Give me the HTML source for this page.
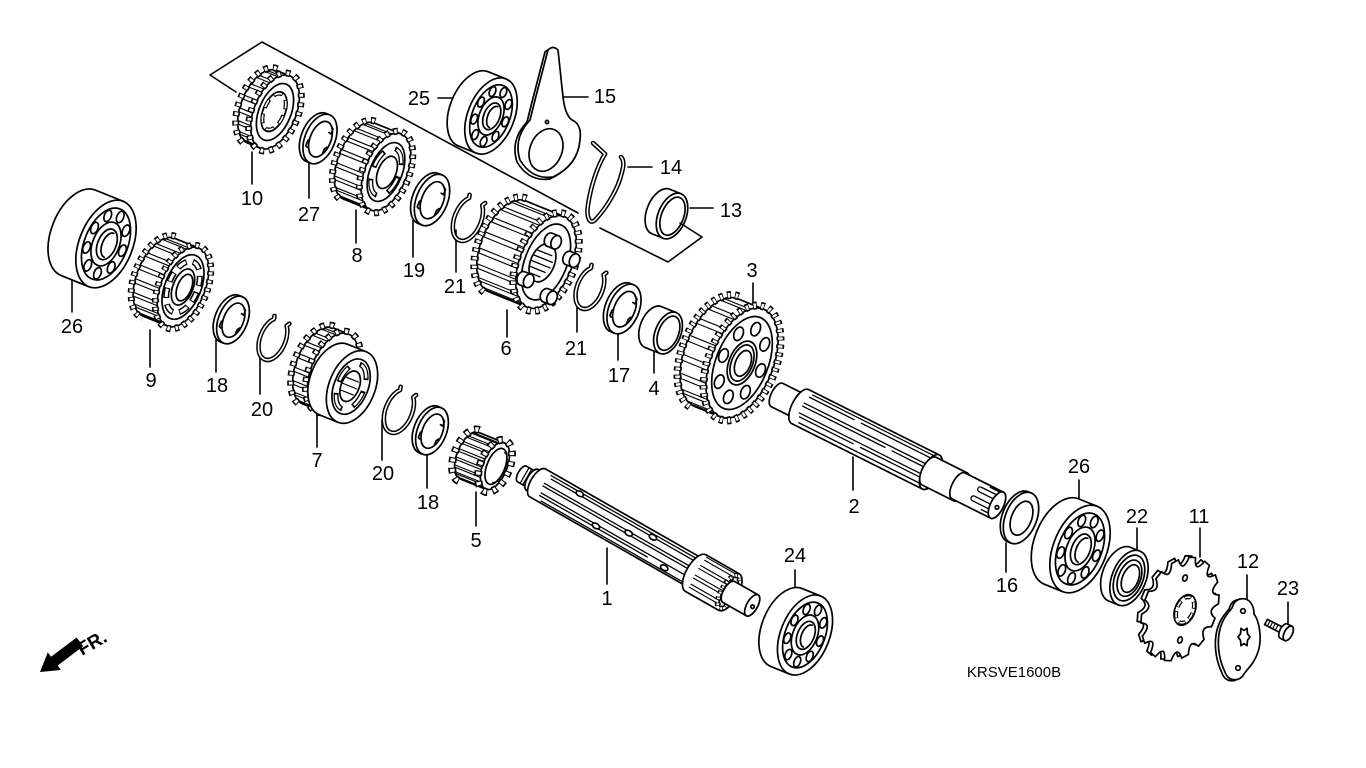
<!DOCTYPE html>
<html><head><meta charset="utf-8"><title>Transmission parts diagram</title>
<style>
html,body{margin:0;padding:0;background:#fff;width:1366px;height:768px;overflow:hidden}
svg{display:block}
.o{fill:#fff;stroke:#000;stroke-width:1.7;stroke-linejoin:round}
.n{fill:none;stroke:#000;stroke-width:1.7;stroke-linejoin:round;stroke-linecap:round}
.t{fill:none;stroke:#000;stroke-width:1.1}
.v{vector-effect:non-scaling-stroke}
.tb{fill:none;stroke:#000;stroke-width:7;stroke-dasharray:.5 .5}
.tw{fill:none;stroke:#fff;stroke-width:3.8;stroke-dasharray:.3 .7;stroke-dashoffset:-.1}
.sb{fill:none;stroke:#000;stroke-width:6;stroke-dasharray:.62 .38}
.sw{fill:none;stroke:#fff;stroke-width:3;stroke-dasharray:.5 .5;stroke-dashoffset:-.06}
.wb{fill:none;stroke:#000;stroke-width:4.6;stroke-linecap:round;stroke-linejoin:round}
.ww{fill:none;stroke:#fff;stroke-width:1.6;stroke-linecap:round;stroke-linejoin:round}
.lb text{font-family:"Liberation Sans",Arial,sans-serif;font-size:20px;fill:#000;text-anchor:middle}
</style></head><body>
<svg width="1366" height="768" viewBox="0 0 1366 768" xmlns="http://www.w3.org/2000/svg">
<defs>
<path id="sl" class="t v" d="M-300,.985H0M-300,.961H0M-300,.866H0M-300,.809H0M-300,.643H0M-300,.559H0M-300,.342H0M-300,.242H0M-300,0H0M-300,-.105H0M-300,-.342H0M-300,-.438H0M-300,-.643H0M-300,-.719H0M-300,-.866H0M-300,-.914H0"/>
<g id="bf">
<ellipse class="o v" rx=".58" ry="1"/>
<ellipse class="n v" rx=".47" ry=".82"/>
<ellipse class="o v" cx=".385" cy="0" rx=".075" ry=".13"/>
<ellipse class="o v" cx=".295" cy=".431" rx=".075" ry=".13"/>
<ellipse class="o v" cx=".067" cy=".66" rx=".075" ry=".13"/>
<ellipse class="o v" cx="-.193" cy=".58" rx=".075" ry=".13"/>
<ellipse class="o v" cx="-.362" cy=".229" rx=".075" ry=".13"/>
<ellipse class="o v" cx="-.362" cy="-.229" rx=".075" ry=".13"/>
<ellipse class="o v" cx="-.193" cy="-.58" rx=".075" ry=".13"/>
<ellipse class="o v" cx=".067" cy="-.66" rx=".075" ry=".13"/>
<ellipse class="o v" cx=".295" cy="-.431" rx=".075" ry=".13"/>
<ellipse class="o v" rx=".29" ry=".5"/>
<ellipse class="o v" cx=".02" rx=".2" ry=".35"/>
<path class="n v" d="M.07,-.28A.15 .28 0 0 0 .07,.28"/>
</g>
<g id="rg">
<path class="o v" d="M0,-1H-.15A.58 1 0 0 0 -.15,1H0Z"/>
<ellipse class="o v" rx=".58" ry="1"/>
<ellipse class="o v" cx=".02" rx=".4" ry=".72"/>
<path class="n v" d="M.22,-.62l.1,.08v.2l-.1,-.02M-.36,.18l-.05,.04v.22l.07,.04M.36,.2l-.06,.1v.18"/>
</g>
<g id="wr">
<path class="o v" d="M0,-1H-.12A.58 1 0 0 0 -.12,1H0Z"/>
<ellipse class="o v" rx=".58" ry="1"/>
<ellipse class="o v" cx=".02" rx=".37" ry=".66"/>
</g>
<g id="cr">
<path class="wb v" d="M.43,-.92L.35,-.79A.58 1 0 1 1 -.3,-.86L-.33,-1"/>
<path class="ww v" d="M.43,-.92L.35,-.79A.58 1 0 1 1 -.3,-.86L-.33,-1"/>
</g>
<path id="spr" d="M35.9,-4.7L35.9,4.7Q24.6,8.4 33.7,19.1L31,27.6Q19.7,23.6 24.8,39.1L19.9,45Q10.9,34.1 11,51.4L4.9,53.5Q0,37.8 -4.9,53.5L-11,51.4Q-10.9,34.1 -19.9,45L-24.8,39.1Q-19.7,23.6 -31,27.6L-33.7,19.1Q-24.6,8.4 -35.9,4.7L-35.9,-4.7Q-24.6,-8.4 -33.7,-19.1L-31,-27.6Q-19.7,-23.6 -24.8,-39.1L-19.9,-45Q-10.9,-34.1 -11,-51.4L-4.9,-53.5Q0,-37.8 4.9,-53.5L11,-51.4Q10.9,-34.1 19.9,-45L24.8,-39.1Q19.7,-23.6 31,-27.6L33.7,-19.1Q24.6,-8.4 35.9,-4.7Z"/>
<clipPath id="c10"><path d="M0,-39H-14A21 39 0 0 0 -14,39H0Z"/></clipPath>
<clipPath id="c9"><path d="M0,-42H-26A22 42 0 0 0 -26,42H0Z"/></clipPath>
<clipPath id="c8"><path d="M0,-41H-29A21 41 0 0 0 -29,41H0Z"/></clipPath>
<clipPath id="c7"><path d="M0,-41H-16A22 41 0 0 0 -16,41H0Z"/></clipPath>
<clipPath id="c6"><path d="M0,-49H-42A26 49 0 0 0 -42,49H0Z"/></clipPath>
<clipPath id="c3"><path d="M0,-58H-28A31 58 0 0 0 -28,58H0Z"/></clipPath>
<clipPath id="c5"><path d="M0,-25H-28A12 25 0 0 0 -28,25H0Z"/></clipPath>
</defs>

<rect width="1366" height="768" fill="#fff"/>

<!-- bracket lines -->
<path class="n" style="stroke-width:1.6" d="M236,92L210,75L262,42L578,213M600,228L668,262L702,237"/>

<!-- leader lines -->
<path class="n" style="stroke-width:1.6" d="M252,152V184M309,163V198M356,210V243M413,220V257M456,230V272M72,278V312M150,330V367M216,340V372M260,355V394M317,410V447M382,420V460M427,452V488M476,492V526M607,548V584M795,570V593M507,310V337M577,290V332M618,333V360M654,343V373M753,283V308M853,457V490M1079,480V503M1006,543V572M1137,528V553M1200,528V557M1247,575V600M1288,602V627M438,98H455M563,97H588M628,167H652M690,208H713"/>

<!-- Gear 10 -->
<g transform="translate(275,112) rotate(22)">
<path class="o" d="M0,-39H-14A21 39 0 0 0 -14,39H0Z"/>
<path class="tb" pathLength="11" d="M-14,-41A23 41 0 0 0 -14,41"/>
<path class="tw" pathLength="11" d="M-14,-41A23 41 0 0 0 -14,41"/>
<g clip-path="url(#c10)"><use href="#sl" transform="scale(1,39)"/></g>
<ellipse class="o" rx="21" ry="39"/>
<path class="tb" pathLength="22" d="M23,0A23 41 0 1 1 -23,0A23 41 0 1 1 23,0"/>
<path class="tw" pathLength="22" d="M23,0A23 41 0 1 1 -23,0A23 41 0 1 1 23,0"/>
<ellipse class="n" rx="16" ry="30"/>
<ellipse class="o" cx="-1" rx="11" ry="21"/>
<path class="sb" style="stroke-width:4" pathLength="6" d="M9,0A10 19 0 1 1 -11,0A10 19 0 1 1 9,0"/>
<path class="sw" style="stroke-width:1.6" pathLength="6" d="M9,0A10 19 0 1 1 -11,0A10 19 0 1 1 9,0"/>
</g>

<!-- Ring 27 -->
<use href="#rg" transform="translate(320,139) rotate(22) scale(26)"/>

<!-- Gear 8 -->
<g transform="translate(386,172) rotate(22)">
<path class="o" d="M0,-41H-29A21 41 0 0 0 -29,41H0Z"/>
<path class="tb" pathLength="12" d="M-29,-43A23 43 0 0 0 -29,43"/>
<path class="tw" pathLength="12" d="M-29,-43A23 43 0 0 0 -29,43"/>
<g clip-path="url(#c8)"><use href="#sl" transform="scale(1,41)"/></g>
<ellipse class="o" rx="21" ry="41"/>
<path class="tb" pathLength="24" d="M23,0A23 43 0 1 1 -23,0A23 43 0 1 1 23,0"/>
<path class="tw" pathLength="24" d="M23,0A23 43 0 1 1 -23,0A23 43 0 1 1 23,0"/>
<ellipse class="o" rx="16" ry="31"/>
<path class="sb" style="stroke-width:5" pathLength="4" d="M13,0A13 25 0 1 1 -13,0A13 25 0 1 1 13,0"/>
<path class="sw" style="stroke-width:2.4" pathLength="4" d="M13,0A13 25 0 1 1 -13,0A13 25 0 1 1 13,0"/>
<ellipse class="o" cx="1" rx="9" ry="17"/>
</g>

<!-- Ring 19 -->
<use href="#rg" transform="translate(432,200) rotate(22) scale(27)"/>
<!-- Clip 21 upper -->
<use href="#cr" transform="translate(468,219) rotate(22) scale(23)"/>

<!-- Bearing 25 -->
<g transform="translate(491,116) rotate(22)">
<path class="o" d="M0,-40H-19A23.2 40 0 0 0 -19,40H0Z"/>
<use href="#bf" transform="scale(40)"/>
</g>

<!-- Plate 15 -->
<path class="o" d="M545,52Q550,47 555,52L560,99Q562,117 569,122Q579,126 577,142Q575,167 550,179Q529,182 517,162Q510,140 527,122L532,102Z"/>
<path class="o" d="M548,50Q553,45 558,50L563,97Q565,115 572,120Q582,124 580,140Q578,165 553,177Q532,180 520,160Q513,138 530,120L535,100Z"/>
<ellipse class="o" cx="546" cy="150" rx="16" ry="22" transform="rotate(22 546 150)"/>
<circle class="o" cx="547" cy="122" r="1.6"/>

<!-- Spring 14 -->
<path class="wb" d="M593,143L605,154C598,165 591,185 588,205C586,218 590,226 596,219C606,208 618,190 622,172C624,165 624,160 621,157"/>
<path class="ww" d="M593,143L605,154C598,165 591,185 588,205C586,218 590,226 596,219C606,208 618,190 622,172C624,165 624,160 621,157"/>

<!-- Collar 13 -->
<g transform="translate(672,216) rotate(22)">
<path class="o" d="M0,-24H-12A14 24 0 0 0 -12,24H0Z"/>
<ellipse class="o" rx="14" ry="24"/>
<ellipse class="o" cx=".5" rx="11" ry="20"/>
</g>
<path class="n" style="stroke-width:1.6" d="M702,237L680,223"/>

<!-- Gear 6 -->
<g transform="translate(546,262) rotate(22)">
<path class="o" d="M0,-49H-42A26 49 0 0 0 -42,49H0Z"/>
<path class="tb" style="stroke-width:8" pathLength="15" d="M-42,-51.5A28.5 51.5 0 0 0 -42,51.5"/>
<path class="tw" style="stroke-width:4.6" pathLength="15" d="M-42,-51.5A28.5 51.5 0 0 0 -42,51.5"/>
<g clip-path="url(#c6)"><use href="#sl" transform="scale(1,49)"/></g>
<ellipse class="o" rx="26" ry="49"/>
<path class="tb" style="stroke-width:8" pathLength="30" d="M28.5,0A28.5 51.5 0 1 1 -28.5,0A28.5 51.5 0 1 1 28.5,0"/>
<path class="tw" style="stroke-width:4.6" pathLength="30" d="M28.5,0A28.5 51.5 0 1 1 -28.5,0A28.5 51.5 0 1 1 28.5,0"/>
<ellipse class="n" rx="21" ry="40"/>
<ellipse class="o" cx="-3" cy="2" rx="12" ry="20"/>
<path class="n" style="stroke-width:1.3" d="M-13,-8H3M-14,-2H6M-14,4H6M-13,10H3M-10,16H0"/>
<g transform="translate(-5,-22)"><path class="o" d="M7,-7H0A5 7 0 0 0 0,7H7Z"/><ellipse class="o" cx="7" rx="5" ry="7"/></g>
<g transform="translate(-16,24)"><path class="o" d="M7,-7H0A5 7 0 0 0 0,7H7Z"/><ellipse class="o" cx="7" rx="5" ry="7"/></g>
<g transform="translate(12,31)"><path class="o" d="M7,-7H0A5 7 0 0 0 0,7H7Z"/><ellipse class="o" cx="7" rx="5" ry="7"/></g>
<g transform="translate(19,-12)"><path class="o" d="M7,-7H0A5 7 0 0 0 0,7H7Z"/><ellipse class="o" cx="7" rx="5" ry="7"/></g>
</g>

<!-- Clip 21 lower -->
<use href="#cr" transform="translate(590,288) rotate(22) scale(22)"/>
<!-- Ring 17 -->
<use href="#rg" transform="translate(624,309) rotate(22) scale(26)"/>

<!-- Collar 4 -->
<g transform="translate(668,333) rotate(22)">
<path class="o" d="M0,-22H-16A12.8 22 0 0 0 -16,22H0Z"/>
<ellipse class="o" rx="12.8" ry="22"/>
<ellipse class="o" cx=".5" rx="10" ry="18"/>
</g>

<!-- Gear 3 -->
<g transform="translate(742,363) rotate(22)">
<path class="o" d="M0,-58H-28A31 58 0 0 0 -28,58H0Z"/>
<path class="tb" style="stroke-width:8" pathLength="19" d="M-28,-60.5A33.5 60.5 0 0 0 -28,60.5"/>
<path class="tw" style="stroke-width:4.6" pathLength="19" d="M-28,-60.5A33.5 60.5 0 0 0 -28,60.5"/>
<g clip-path="url(#c3)"><use href="#sl" transform="scale(1,58)"/></g>
<ellipse class="o" rx="31" ry="58"/>
<path class="tb" style="stroke-width:8" pathLength="38" d="M33.5,0A33.5 60.5 0 1 1 -33.5,0A33.5 60.5 0 1 1 33.5,0"/>
<path class="tw" style="stroke-width:4.6" pathLength="38" d="M33.5,0A33.5 60.5 0 1 1 -33.5,0A33.5 60.5 0 1 1 33.5,0"/>
<ellipse class="n" rx="26" ry="49"/>
<ellipse class="o" cx="20" cy="0" rx="4.5" ry="7"/>
<ellipse class="o" cx="14.1" cy="25.8" rx="4.5" ry="7"/>
<ellipse class="o" cx="0" cy="36.5" rx="4.5" ry="7"/>
<ellipse class="o" cx="-14.1" cy="25.8" rx="4.5" ry="7"/>
<ellipse class="o" cx="-20" cy="0" rx="4.5" ry="7"/>
<ellipse class="o" cx="-14.1" cy="-25.8" rx="4.5" ry="7"/>
<ellipse class="o" cx="0" cy="-36.5" rx="4.5" ry="7"/>
<ellipse class="o" cx="14.1" cy="-25.8" rx="4.5" ry="7"/>
<ellipse class="o" rx="13" ry="23"/>
<ellipse class="n" rx="10.5" ry="19"/>
<ellipse class="o" cx="1" rx="7.5" ry="13.5"/>
</g>

<!-- Shaft 2 -->
<g transform="translate(777,395) rotate(26.6)">
<path class="o" d="M0,-13H30A5.8 13 0 0 1 30,13H0A5.8 13 0 0 1 0,-13Z"/>
<path class="o" d="M26,-19H172A8.5 19 0 0 1 172,19H26A8.5 19 0 0 1 26,-19Z"/>
<path class="n" style="stroke-width:1.3" d="M32,-16H168M30,-12.5H80M88,-12.5H168M28,-5H168M28,-1.5H120M128,-1.5H168M28,6H168M30,9.5H90M98,9.5H168M32,15H166"/>
<ellipse class="o" cx="172" rx="8.5" ry="19"/>
<path class="o" d="M170,-15.5H205A7 15.5 0 0 1 205,15.5H170A7 15.5 0 0 1 170,-15.5Z"/>
<ellipse class="o" cx="205" rx="7" ry="15.5"/>
<path class="o" d="M203,-14.5H246A6.5 14.5 0 0 1 246,14.5H203A6.5 14.5 0 0 1 203,-14.5Z"/>
<path class="n" style="stroke-width:1.3" d="M246,-9H224A2.5 2.5 0 0 0 224,-4H246M246,2H222A2.5 2.5 0 0 0 222,7H246M244,-13H232M244,11H234"/>
<ellipse class="o" cx="246" rx="6.5" ry="14.5"/>
<circle class="o" cx="247" cy="2" r="1.8"/>
</g>

<!-- Bearing 26 left -->
<g transform="translate(106,244) rotate(22)">
<path class="o" d="M0,-46H-30A26.7 46 0 0 0 -30,46H0Z"/>
<use href="#bf" transform="scale(46)"/>
</g>

<!-- Gear 9 -->
<g transform="translate(183,287) rotate(22)">
<path class="o" d="M0,-42H-26A22 42 0 0 0 -26,42H0Z"/>
<path class="tb" pathLength="13" d="M-26,-44A24 44 0 0 0 -26,44"/>
<path class="tw" pathLength="13" d="M-26,-44A24 44 0 0 0 -26,44"/>
<g clip-path="url(#c9)"><use href="#sl" transform="scale(1,42)"/></g>
<ellipse class="o" rx="22" ry="42"/>
<path class="tb" pathLength="26" d="M24,0A24 44 0 1 1 -24,0A24 44 0 1 1 24,0"/>
<path class="tw" pathLength="26" d="M24,0A24 44 0 1 1 -24,0A24 44 0 1 1 24,0"/>
<ellipse class="n" rx="18" ry="34"/>
<path class="sb" pathLength="8" d="M14.5,0A14.5 27 0 1 1 -14.5,0A14.5 27 0 1 1 14.5,0"/>
<path class="sw" pathLength="8" d="M14.5,0A14.5 27 0 1 1 -14.5,0A14.5 27 0 1 1 14.5,0"/>
<ellipse class="o" rx="10" ry="19"/>
<ellipse class="o" cx="1.5" rx="7" ry="14"/>
</g>

<!-- Ring 18 a, Clip 20 a -->
<use href="#rg" transform="translate(233,320) rotate(22) scale(25)"/>
<use href="#cr" transform="translate(273,339) rotate(22) scale(22)"/>

<!-- Gear 7 -->
<g transform="translate(333,372) rotate(22)">
<path class="o" d="M0,-41H-16A22 41 0 0 0 -16,41H0Z"/>
<path class="tb" pathLength="11" d="M-16,-43A24 43 0 0 0 -16,43"/>
<path class="tw" pathLength="11" d="M-16,-43A24 43 0 0 0 -16,43"/>
<g clip-path="url(#c7)"><use href="#sl" transform="scale(1,41)"/></g>
<ellipse class="o" rx="22" ry="41"/>
<path class="tb" pathLength="22" d="M24,0A24 43 0 1 1 -24,0A24 43 0 1 1 24,0"/>
<path class="tw" pathLength="22" d="M24,0A24 43 0 1 1 -24,0A24 43 0 1 1 24,0"/>
</g>
<g transform="translate(352,387) rotate(22)">
<path class="o" d="M0,-38H-20A23 38 0 0 0 -20,38H0Z"/>
<ellipse class="o" rx="23" ry="38"/>
<ellipse class="o" cx="-1" rx="17" ry="29"/>
<path class="sb" style="stroke-width:5" pathLength="4" d="M12,0A13 24 0 1 1 -14,0A13 24 0 1 1 12,0"/>
<path class="sw" style="stroke-width:2.4" pathLength="4" d="M12,0A13 24 0 1 1 -14,0A13 24 0 1 1 12,0"/>
<ellipse class="o" cx="-2" rx="9" ry="16"/>
<path class="n" style="stroke-width:1.2" d="M-9,-7H4M-10,0H5M-9,7H4"/>
</g>

<!-- Clip 20 b, Ring 18 b -->
<use href="#cr" transform="translate(399,411) rotate(22) scale(23)"/>
<use href="#rg" transform="translate(432,431) rotate(22) scale(25)"/>

<!-- Gear 5 -->
<g transform="translate(495,466) rotate(22)">
<path class="o" d="M0,-25H-28A12 25 0 0 0 -28,25H0Z"/>
<path class="tb" style="stroke-width:8" pathLength="6.5" d="M-28,-27.5A14.5 27.5 0 0 0 -28,27.5"/>
<path class="tw" style="stroke-width:4.6" pathLength="6.5" d="M-28,-27.5A14.5 27.5 0 0 0 -28,27.5"/>
<g clip-path="url(#c5)"><use href="#sl" transform="scale(1,25)"/></g>
<ellipse class="o" rx="12" ry="25"/>
<path class="tb" style="stroke-width:8" pathLength="13" d="M14.5,0A14.5 27.5 0 1 1 -14.5,0A14.5 27.5 0 1 1 14.5,0"/>
<path class="tw" style="stroke-width:4.6" pathLength="13" d="M14.5,0A14.5 27.5 0 1 1 -14.5,0A14.5 27.5 0 1 1 14.5,0"/>
<ellipse class="o" cx="1" rx="9" ry="19"/>
<path class="n" style="stroke-width:1.3" d="M4,-16A6 15 0 0 1 4,16"/>
</g>

<!-- Shaft 1 -->
<g transform="translate(522,474) rotate(29.7)">
<path class="o" d="M0,-9H14A4 9 0 0 1 14,9H0A4 9 0 0 1 0,-9Z"/>
<path class="n" style="stroke-width:1.2" d="M3,-9V9M6,-9V9M9,-9V9"/>
<path class="o" d="M12,-12H20A5.4 12 0 0 1 20,12H12A5.4 12 0 0 1 12,-12Z"/>
<path class="o" d="M18,-16H203A7.2 16 0 0 1 203,16H18A7.2 16 0 0 1 18,-16Z"/>
<path class="n" style="stroke-width:1.3" d="M26,-13H198M28,-10H140M150,-10H198M24,-3H118M126,-3H198M24,0H198M26,7H198M26,10H150M30,14H196"/>
<ellipse class="o" cx="122" cy="-1.5" rx="4" ry="2.5"/>
<ellipse class="o" cx="145" cy="-10" rx="4" ry="2.5"/>
<ellipse class="o" cx="60" cy="-11.5" rx="4" ry="2.5"/>
<ellipse class="o" cx="90" cy="8.5" rx="4" ry="2.5"/>
<ellipse class="o" cx="170" cy="11" rx="4" ry="2.5"/>
<path class="o" d="M200,-21H238A9.5 21 0 0 1 238,21H200A9.5 21 0 0 1 200,-21Z"/>
<path class="t" d="M201,-19H238M201,-15.5H238M200,-9H238M200,-5.5H238M200,2H238M200,5.5H238M201,12H238M201,15.5H238"/>
<ellipse class="o" cx="238" rx="5.5" ry="17"/>
<path class="tb" style="stroke-width:6" pathLength="14" d="M245,0A7 18.5 0 1 1 231,0A7 18.5 0 1 1 245,0"/>
<path class="tw" style="stroke-width:2.8" pathLength="14" d="M245,0A7 18.5 0 1 1 231,0A7 18.5 0 1 1 245,0"/>
<path class="o" d="M238,-12H265A5.4 12 0 0 1 265,12H238A5.4 12 0 0 1 238,-12Z"/>
<ellipse class="o" cx="265" rx="5.4" ry="12"/>
<circle class="o" cx="266" cy="1" r="1.8"/>
</g>

<!-- Bearing 24 -->
<g transform="translate(805,635) rotate(22)">
<path class="o" d="M0,-42H-20A24.4 42 0 0 0 -20,42H0Z"/>
<use href="#bf" transform="scale(42)"/>
</g>

<!-- Washer 16 -->
<use href="#wr" transform="translate(1021,518) rotate(22) scale(27)"/>

<!-- Bearing 26 right -->
<g transform="translate(1080,549) rotate(22)">
<path class="o" d="M0,-46H-20A26.7 46 0 0 0 -20,46H0Z"/>
<use href="#bf" transform="scale(46)"/>
</g>

<!-- Seal 22 -->
<g transform="translate(1129,578) rotate(22)">
<path class="o" d="M0,-29H-10A17 29 0 0 0 -10,29H0Z"/>
<ellipse class="o" rx="17" ry="29"/>
<ellipse class="n" rx="14" ry="24"/>
<ellipse class="o" cx=".5" rx="11" ry="19"/>
<ellipse class="n" cx="1.5" rx="8" ry="14.5"/>
</g>

<!-- Sprocket 11 -->
<g transform="translate(1180,609) rotate(22)">
<use href="#spr" class="o" transform="translate(-4,0)"/>
<use href="#spr" class="o"/>
<ellipse class="o" cx="5" cy="-1" rx="10" ry="16"/>
<path class="sb" style="stroke-width:4" pathLength="6" d="M13,-1A8 13.5 0 1 1 -3,-1A8 13.5 0 1 1 13,-1"/>
<path class="sw" style="stroke-width:1.6" pathLength="6" d="M13,-1A8 13.5 0 1 1 -3,-1A8 13.5 0 1 1 13,-1"/>
<ellipse class="o" cx="-7" cy="-30.6" rx="2.2" ry="3.2"/>
<ellipse class="o" cx="11.6" cy="28.7" rx="2.2" ry="3.2"/>
</g>

<!-- Plate 12 -->
<path class="o" d="M1237,600C1247,598 1251,607 1251,615C1257,623 1259,641 1255,653C1251,665 1245,669 1241,675C1237,683 1225,683 1222,673C1217,663 1214,649 1216,635C1218,621 1225,614 1229,609C1231,603 1233,601 1237,600Z"/>
<path class="o" d="M1240,599C1250,597 1254,606 1254,614C1260,622 1262,640 1258,652C1254,664 1248,668 1244,674C1240,682 1228,682 1225,672C1220,662 1217,648 1219,634C1221,620 1228,613 1232,608C1234,602 1236,600 1240,599Z"/>
<path class="o" d="M1250,637L1247.5,640.3L1247,645.7L1244,643.5L1241,645.7L1240.5,640.3L1238,637L1240.5,633.8L1241,628.3L1244,630.5L1247,628.3L1247.5,633.8Z"/>
<circle class="o" cx="1243" cy="611" r="2.3"/>
<circle class="o" cx="1238" cy="668" r="2.3"/>

<!-- Bolt 23 -->
<g transform="translate(1266,622) rotate(27)">
<path class="o" d="M0,-3H21V3H0Z"/>
<path class="n" style="stroke-width:1.1" d="M3,-3V3M6,-3V3M9,-3V3M12,-3V3"/>
<path class="o" d="M20,-8H25A4 8 0 0 1 25,8H20A4 8 0 0 1 20,-8Z"/>
<ellipse class="o" cx="25" rx="4" ry="8"/>
</g>

<!-- FR arrow -->
<g transform="translate(40,672) rotate(-37)">
<path d="M0,0L18,-11L18,-5.5L50,-5.5L50,5.5L18,5.5L18,11Z" fill="#000"/>
</g>
<text transform="translate(82,656) rotate(-30)" style="font-family:'Liberation Sans',Arial,sans-serif;font-weight:bold;font-size:19px;fill:#000">FR.</text>

<!-- labels -->
<g class="lb">
<text x="252" y="205">10</text>
<text x="309" y="221">27</text>
<text x="357" y="262">8</text>
<text x="414" y="277">19</text>
<text x="455" y="293">21</text>
<text x="419" y="105">25</text>
<text x="605" y="103">15</text>
<text x="671" y="174">14</text>
<text x="731" y="217">13</text>
<text x="72" y="333">26</text>
<text x="151" y="387">9</text>
<text x="217" y="392">18</text>
<text x="262" y="416">20</text>
<text x="317" y="467">7</text>
<text x="383" y="480">20</text>
<text x="428" y="509">18</text>
<text x="476" y="547">5</text>
<text x="607" y="605">1</text>
<text x="795" y="562">24</text>
<text x="506" y="355">6</text>
<text x="576" y="355">21</text>
<text x="619" y="382">17</text>
<text x="654" y="395">4</text>
<text x="752" y="277">3</text>
<text x="854" y="513">2</text>
<text x="1079" y="473">26</text>
<text x="1007" y="592">16</text>
<text x="1137" y="523">22</text>
<text x="1199" y="523">11</text>
<text x="1248" y="568">12</text>
<text x="1288" y="595">23</text>
</g>
<text x="1014" y="677" style="font-family:'Liberation Sans',Arial,sans-serif;font-size:15px;fill:#000;text-anchor:middle">KRSVE1600B</text>
</svg>
</body></html>
